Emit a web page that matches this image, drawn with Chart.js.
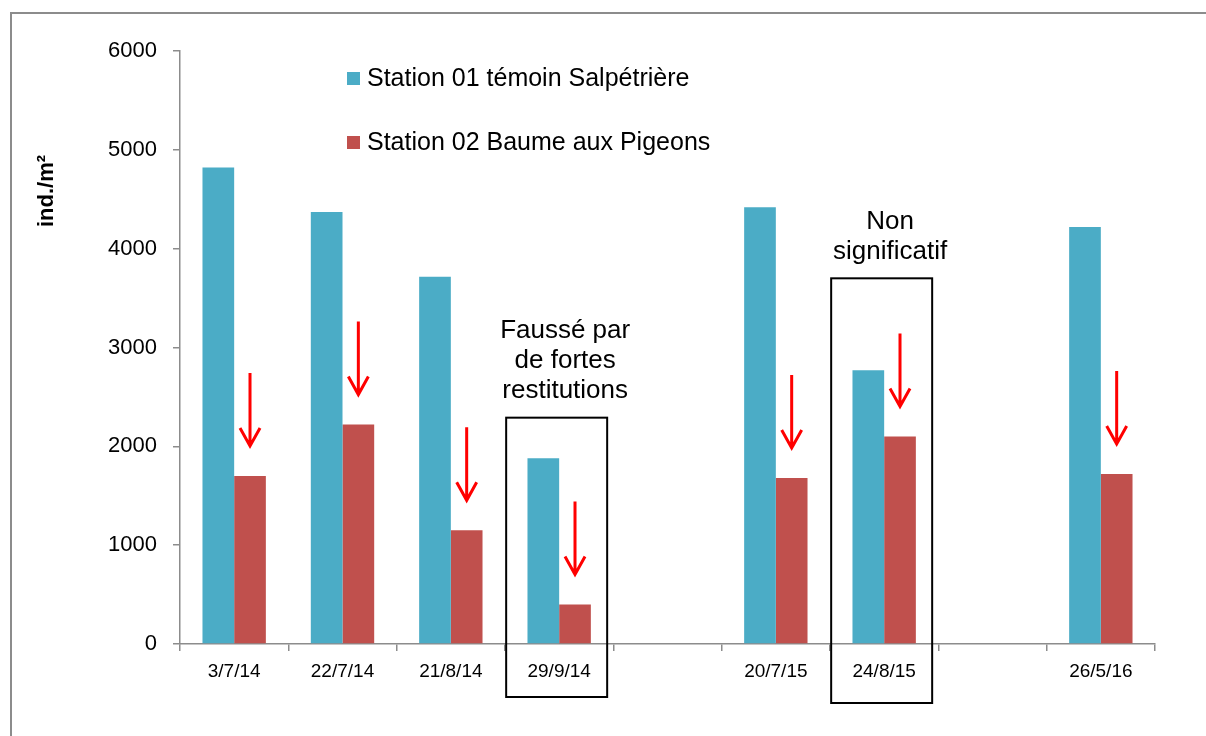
<!DOCTYPE html>
<html>
<head>
<meta charset="utf-8">
<script src="https://cdn.jsdelivr.net/npm/chart.js@4.4.1/dist/chart.umd.min.js"></script>
<style>
  html, body { margin: 0; padding: 0; background: #fff; }
  #wrap { width: 1206px; height: 736px; position: relative; }
</style>
</head>
<body>
<div id="wrap"><canvas id="myChart" width="1206" height="736"></canvas></div>
<script>
// sampling dates (empty slots keep the gaps between campaigns)
const dates = ['3/7/14', '22/7/14', '21/8/14', '29/9/14', '', '20/7/15', '24/8/15', '', '26/5/16']
const station01 = [4820, 4370, 3715, 1880, null, 4420, 2770, null, 4220]
const station02 = [1700, 2220, 1150, 400, null, 1680, 2100, null, 1720]
const seriesNames = ['Station 01 témoin Salpétrière', 'Station 02 Baume aux Pigeons']
const yTicks = [0, 1000, 2000, 3000, 4000, 5000, 6000]

// red arrows over station 02 bars, and framed notes
const arrowAt = [0, 1, 2, 3, 5, 6, 8]
const notes = [
  { idx: 3, top: 2290, bottom: 697, text: ['Faussé par', 'de fortes', 'restitutions'], textY: 331 },
  { idx: 6, top: 3700, bottom: 703, text: ['Non', 'significatif'], textY: 222 }
]

const FONT = '"Liberation Sans", Arial, sans-serif'
const blue = '#4BACC6'
const red = '#C0504D'
const axisGrey = '#8c8c8c'

const decorations = {
  id: 'decorations',
  beforeDraw(chart) {
    const ctx = chart.ctx
    ctx.save()
    ctx.fillStyle = '#fff'
    ctx.fillRect(0, 0, chart.width, chart.height)
    // outer frame, only top + left fall inside the page
    ctx.strokeStyle = axisGrey
    ctx.lineWidth = 2
    ctx.beginPath()
    ctx.moveTo(11, chart.height + 2)
    ctx.lineTo(11, 13)
    ctx.lineTo(chart.width + 2, 13)
    ctx.stroke()
    ctx.restore()
  },
  afterDraw(chart) {
    const ctx = chart.ctx
    const xs = chart.scales.x
    const ys = chart.scales.y
    ctx.save()

    // y title
    ctx.translate(47, 191)
    ctx.rotate(-Math.PI / 2)
    ctx.font = 'bold 22px ' + FONT
    ctx.fillStyle = '#000'
    ctx.textAlign = 'center'
    ctx.textBaseline = 'middle'
    ctx.fillText('ind./m²', 0, 0)
    ctx.setTransform(1, 0, 0, 1, 0, 0)

    // legend
    const colors = [blue, red]
    const legY = [78, 142]
    ctx.font = '25px ' + FONT
    ctx.textAlign = 'left'
    colors.forEach((c, i) => {
      ctx.fillStyle = c
      ctx.fillRect(347, legY[i] - 6, 13, 13)
      ctx.fillStyle = '#000'
      ctx.fillText(chart.data.datasets[i].label, 367, legY[i] + 1)
    })

    // arrows
    const meta = chart.getDatasetMeta(1)
    ctx.strokeStyle = '#FF0000'
    ctx.lineWidth = 3
    arrowAt.forEach((i) => {
      const bar = meta.data[i]
      const tip = bar.y - 30
      ctx.beginPath()
      ctx.moveTo(bar.x, tip - 73)
      ctx.lineTo(bar.x, tip)
      ctx.moveTo(bar.x - 10, tip - 18)
      ctx.lineTo(bar.x, tip)
      ctx.lineTo(bar.x + 10, tip - 18)
      ctx.stroke()
    })

    // framed notes
    ctx.strokeStyle = '#000'
    ctx.lineWidth = 2
    ctx.font = '26px ' + FONT
    ctx.textAlign = 'center'
    ctx.fillStyle = '#000'
    notes.forEach((n) => {
      const cx = xs.getPixelForValue(n.idx)
      const top = ys.getPixelForValue(n.top)
      ctx.strokeRect(cx - 53, top, 101, n.bottom - top)
      n.text.forEach((line, k) => {
        ctx.fillText(line, cx + 6, n.textY + k * 30)
      })
    })
    ctx.restore()
  }
}

const ctx = document.getElementById('myChart')
const myChart = new Chart(ctx, {
  type: 'bar',
  data: {
    labels: dates,
    datasets: [
      { label: seriesNames[0], data: station01, backgroundColor: blue },
      { label: seriesNames[1], data: station02, backgroundColor: red }
    ]
  },
  options: {
    responsive: false,
    animation: false,
    devicePixelRatio: 1,
    categoryPercentage: 0.585,
    barPercentage: 1,
    layout: { padding: { left: 0, top: 51, right: 51, bottom: 0 } },
    plugins: { legend: { display: false }, tooltip: { enabled: false } },
    scales: {
      x: {
        grid: { display: true, drawOnChartArea: false, offset: true, color: axisGrey, tickLength: 7, lineWidth: 1.5 },
        border: { color: axisGrey, width: 1.5 },
        ticks: { color: '#000', font: { family: FONT, size: 19 }, padding: 9, maxRotation: 0, autoSkip: false },
        afterFit: (s) => { s.height = 92 }
      },
      y: {
        min: 0,
        max: 6000,
        afterBuildTicks: (s) => { s.ticks = yTicks.map((v) => ({ value: v })) },
        grid: { display: true, drawOnChartArea: false, color: axisGrey, tickLength: 7, lineWidth: 1.5 },
        border: { color: axisGrey, width: 1.5 },
        ticks: { color: '#000', font: { family: FONT, size: 22 }, padding: 16, callback: (v) => String(v) },
        afterFit: (s) => { s.width = 180 }
      }
    }
  },
  plugins: [decorations]
})
</script>
</body>
</html>
